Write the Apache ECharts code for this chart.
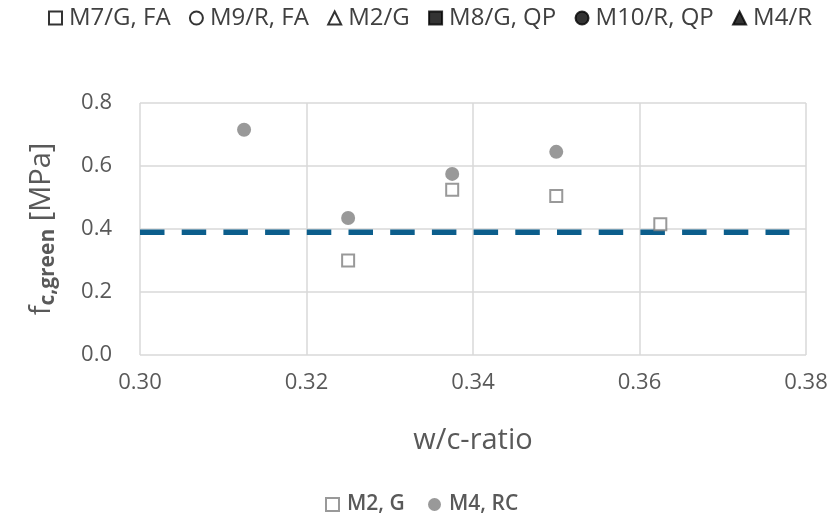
<!DOCTYPE html>
<html>
<head>
<meta charset="utf-8">
<script src="https://cdn.jsdelivr.net/npm/echarts@6/dist/echarts.min.js"></script>
<style>
  html, body { margin: 0; padding: 0; background: #fff; }
  #chart { width: 838px; height: 521px; }
</style>
</head>
<body>
<div id="chart"></div>
<script>
// w/c-ratio vs green compressive strength
const wcM2 = [0.325, 0.3375, 0.35, 0.3625];
const fcM2 = [0.30, 0.525, 0.505, 0.415];
const wcM4 = [0.3125, 0.325, 0.3375, 0.35];
const fcM4 = [0.715, 0.435, 0.575, 0.645];
const limitWc = [0.30, 0.378];
const limitFc = [0.39, 0.39];
const xTicks = [0.30, 0.32, 0.34, 0.36, 0.38];
const yTicks = [0.0, 0.2, 0.4, 0.6, 0.8];
const topLegend = ['M7/G, FA', 'M9/R, FA', 'M2/G', 'M8/G, QP', 'M10/R, QP', 'M4/R'];
const topIcons = ['emptyRect', 'emptyCircle', 'emptyTriangle', 'rect', 'circle', 'triangle'];
const bottomLegend = ['M2, G', 'M4, RC'];
const bottomLeft = [325, 428];

const pairs = (xs, ys) => xs.map((x, i) => [x, ys[i]]);
const txt = '#595959';
const font = '"Open Sans", "DejaVu Sans", sans-serif';
const topFontSize = 24;

// spread the upper legend evenly between x = 48 and x = 806
const topStart = 48, topEnd = 806, topIcon = 13, topPad = 2;
const ctx = document.createElement('canvas').getContext('2d');
ctx.font = topFontSize + 'px ' + font;
const itemsWidth = topLegend.reduce((s, n) => s + topIcon + 5 + topPad + ctx.measureText(n).width, 0);
const topGap = Math.max(6, (topEnd - topStart - itemsWidth) / (topLegend.length - 1));

// empty series that only populate the upper legend
const topSeries = topLegend.map((name, i) => ({
  name, type: 'scatter', data: [], symbol: topIcons[i],
  itemStyle: { color: '#000', borderColor: '#000', borderWidth: 2 }
}));

const legends = [
  {
    data: topLegend.map((name, i) => ({ name, icon: topIcons[i] })),
    top: 6, left: topStart, itemWidth: topIcon, itemHeight: topIcon, itemGap: topGap, padding: 0,
    textStyle: { color: '#404040', fontSize: topFontSize, fontFamily: font, padding: [0, 0, 0, topPad] }
  },
  ...bottomLegend.map((name, i) => ({
    data: [{ name, icon: i === 0 ? 'emptyRect' : 'circle' }],
    top: 494, left: bottomLeft[i], itemWidth: 13, itemHeight: 13, padding: 0,
    textStyle: { color: txt, fontSize: 21, fontFamily: font, fontWeight: 600, padding: [0, 0, 0, 3] }
  }))
];

const chart = echarts.init(document.getElementById('chart'), null, { renderer: 'canvas' });
chart.setOption({
  animation: false,
  backgroundColor: '#fff',
  grid: { left: 140, right: 32, top: 103, bottom: 166, containLabel: false },
  legend: legends,
  xAxis: {
    type: 'value', min: xTicks[0], max: xTicks[xTicks.length - 1], interval: 0.02,
    name: 'w/c-ratio', nameLocation: 'middle', nameGap: 71,
    nameTextStyle: { color: txt, fontSize: 29, fontFamily: font },
    axisLine: { show: false }, axisTick: { show: false },
    axisLabel: { color: txt, fontSize: 22, fontFamily: font, margin: 17, formatter: v => v.toFixed(2) },
    splitLine: { show: true, lineStyle: { color: '#d9d9d9', width: 1.5 } }
  },
  yAxis: {
    type: 'value', min: yTicks[0], max: yTicks[yTicks.length - 1], interval: 0.2,
    name: '{f|f}{s|c,green}{f| [MPa]}', nameLocation: 'middle', nameGap: 84,
    nameTextStyle: {
      color: txt, fontFamily: font,
      rich: {
        f: { fontSize: 29, color: txt, fontFamily: font, verticalAlign: 'bottom' },
        s: { fontSize: 21, color: txt, fontFamily: font, fontWeight: 'bold', verticalAlign: 'bottom', padding: [0, 0, -3, 0] }
      }
    },
    axisLine: { show: false }, axisTick: { show: false },
    axisLabel: { color: txt, fontSize: 22, fontFamily: font, margin: 28, formatter: v => v.toFixed(1) },
    splitLine: { show: true, lineStyle: { color: '#d9d9d9', width: 1.5 } }
  },
  series: [
    ...topSeries,
    {
      name: 'M2, G', type: 'scatter', data: pairs(wcM2, fcM2), symbol: 'emptyRect', symbolSize: 12, z: 4,
      itemStyle: { color: '#7f7f7f', borderColor: '#7f7f7f', borderWidth: 2 }
    },
    {
      name: 'M4, RC', type: 'scatter', data: pairs(wcM4, fcM4), symbol: 'circle', symbolSize: 14, z: 4,
      itemStyle: { color: '#7f7f7f' }
    },
    {
      name: 'limit', type: 'line', data: pairs(limitWc, limitFc), symbol: 'none', z: 3, clip: false,
      lineStyle: { color: '#0c5e8c', width: 5.5, type: [24.5, 17.2] }
    }
  ]
});
</script>
</body>
</html>
